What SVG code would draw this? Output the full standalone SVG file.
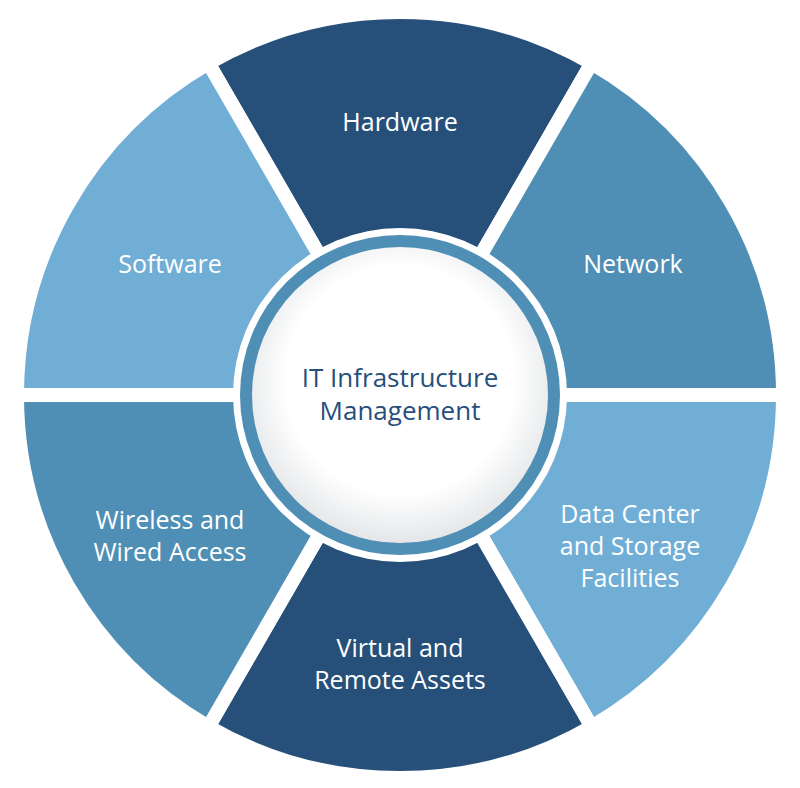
<svg xmlns="http://www.w3.org/2000/svg" width="800" height="788" viewBox="0 0 800 788">
<style>
.s{stroke:#fff;stroke-width:14}
.d{fill:#26507a}.m{fill:#4f8fb5}.l{fill:#70aed6}
.t{font-family:"Open Sans","Liberation Sans",sans-serif;font-size:25px;fill:#fff;text-anchor:middle}
.c{font-family:"Open Sans","Liberation Sans",sans-serif;font-size:26px;fill:#26507a;text-anchor:middle}
</style>
<defs><radialGradient id="g" cx="0.5" cy="0.45" r="0.55"><stop offset="0.7" stop-color="#fff"/><stop offset="1" stop-color="#e4e6e8"/></radialGradient></defs>
<rect width="800" height="788" fill="#fff"/>
<g id="hardware"><path class="s d" d="M400 395 L208.5 63.3 A383 383 0 0 1 591.5 63.3 Z"/><text class="t" x="400" y="131">Hardware</text></g>
<g id="network"><path class="s m" d="M400 395 L591.5 63.3 A383 383 0 0 1 783 395 Z"/><text class="t" x="633" y="273">Network</text></g>
<g id="datacenter"><path class="s l" d="M400 395 L783 395 A383 383 0 0 1 591.5 726.7 Z"/><text class="t" x="630" y="523">Data Center</text><text class="t" x="630" y="555">and Storage</text><text class="t" x="630" y="587">Facilities</text></g>
<g id="virtual"><path class="s d" d="M400 395 L591.5 726.7 A383 383 0 0 1 208.5 726.7 Z"/><text class="t" x="400" y="657">Virtual and</text><text class="t" x="400" y="689">Remote Assets</text></g>
<g id="wireless"><path class="s m" d="M400 395 L208.5 726.7 A383 383 0 0 1 17 395 Z"/><text class="t" x="170" y="529">Wireless and</text><text class="t" x="170" y="561">Wired Access</text></g>
<g id="software"><path class="s l" d="M400 395 L17 395 A383 383 0 0 1 208.5 63.3 Z"/><text class="t" x="170" y="273">Software</text></g>
<g id="center"><circle cx="400" cy="395" r="167" fill="#fff"/><circle cx="400" cy="395" r="160" fill="#4f8fb5"/><circle cx="400" cy="395" r="148" fill="url(#g)"/><text class="c" x="400" y="387">IT Infrastructure</text><text class="c" x="400" y="420">Management</text></g>
<g id="connectors"/>
</svg>
